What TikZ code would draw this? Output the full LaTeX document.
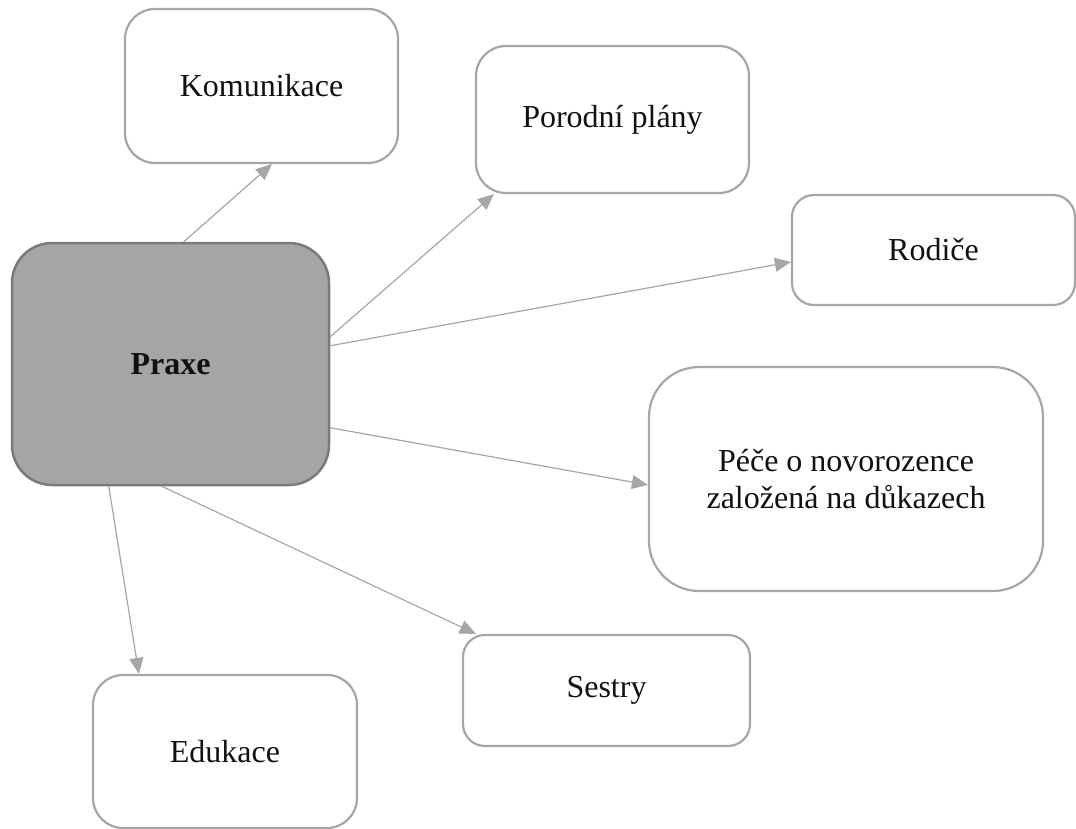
\documentclass[tikz,border=0pt]{standalone}
\usepackage{fontspec}
\setmainfont{Liberation Serif}
\usetikzlibrary{arrows.meta}
\definecolor{boxline}{HTML}{A6A6A6}
\definecolor{mainfill}{HTML}{A5A5A5}
\definecolor{mainline}{HTML}{7A7A7A}
\definecolor{arrowcol}{HTML}{A6A6A6}
\definecolor{txt}{HTML}{111111}
\begin{document}
\begin{tikzpicture}[x=1pt,y=-1pt,
  box/.style={draw=boxline, line width=2.2pt, fill=white, rectangle, inner sep=0pt,
    text=txt, align=center, font=\fontsize{32}{37}\selectfont},
  mainbox/.style={draw=mainline, line width=2.5pt, fill=mainfill, rectangle, inner sep=0pt,
    rounded corners=40pt, text=txt, font=\fontsize{32}{37}\selectfont\bfseries},
  conn/.style={draw=arrowcol, line width=1.2pt, -{Triangle[length=16pt,width=14pt]}}]
\useasboundingbox (0,0) rectangle (1076,828);
\node[mainbox, minimum width=317pt, minimum height=242pt] (praxe) at (170.5,364) {Praxe};
\node[box, rounded corners=30pt, minimum width=273pt, minimum height=154pt] (kom) at (261.5,86) {Komunikace};
\node[box, rounded corners=30pt, minimum width=273pt, minimum height=147pt] (por) at (612.5,119.5) {Porodní plány};
\node[box, rounded corners=22pt, minimum width=283pt, minimum height=110pt] (rod) at (933.5,250) {Rodiče};
\node[box, rounded corners=50pt, minimum width=394pt, minimum height=224pt] (pece) at (846,479) {Péče o novorozence\\založená na důkazech};
\node[box, rounded corners=22pt, minimum width=287pt, minimum height=111pt] (ses) at (606.5,690.5) {Sestry};
\node[box, rounded corners=30pt, minimum width=264pt, minimum height=153pt] (edu) at (225,751.5) {Edukace};
\draw[conn] ([xshift=173pt]praxe.north west) -- ([xshift=148pt]kom.south west);
\draw[conn] ([yshift=-95pt]praxe.north east) -- ([xshift=19pt]por.south west);
\draw[conn] ([yshift=-104pt]praxe.north east) -- ([yshift=-68pt]rod.north west);
\draw[conn] ([yshift=-186pt]praxe.north east) -- ([yshift=-119pt]pece.north west);
\draw[conn] ([xshift=151pt]praxe.south west) -- ([xshift=14pt]ses.north west);
\draw[conn] ([xshift=98pt]praxe.south west) -- ([xshift=47pt]edu.north west);
\end{tikzpicture}
\end{document}
